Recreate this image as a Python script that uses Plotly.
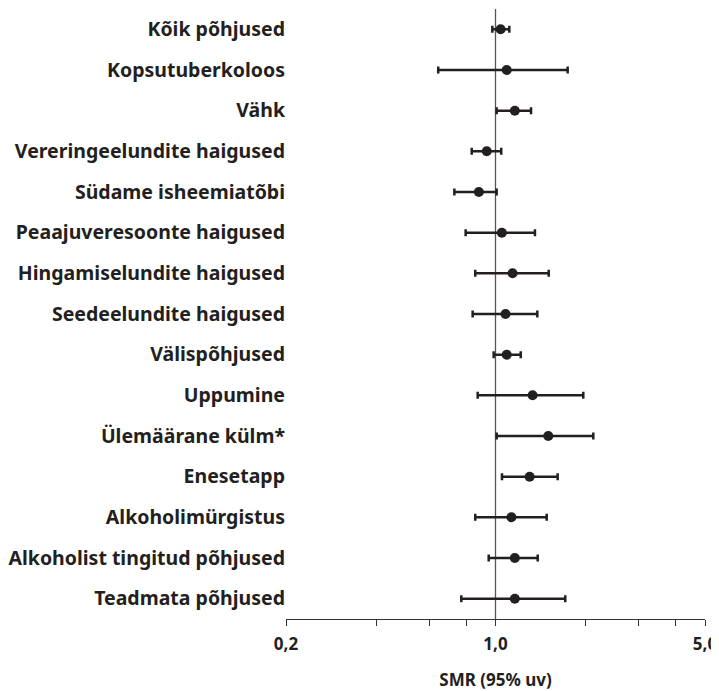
import plotly.graph_objects as go

categories = [
    "Kõik põhjused", "Kopsutuberkoloos", "Vähk", "Vereringeelundite haigused",
    "Südame isheemiatõbi", "Peaajuveresoonte haigused", "Hingamiselundite haigused",
    "Seedeelundite haigused", "Välispõhjused", "Uppumine", "Ülemäärane külm*",
    "Enesetapp", "Alkoholimürgistus", "Alkoholist tingitud põhjused", "Teadmata põhjused",
]
smr = [1.04, 1.09, 1.16, 0.935, 0.88, 1.05, 1.14, 1.08, 1.09, 1.33, 1.50, 1.30, 1.13, 1.16, 1.16]
ci_low = [0.976, 0.644, 1.009, 0.833, 0.729, 0.795, 0.856, 0.839, 0.986, 0.872, 1.009, 1.051, 0.856, 0.949, 0.769]
ci_high = [1.112, 1.741, 1.314, 1.045, 1.009, 1.354, 1.505, 1.379, 1.214, 1.963, 2.12, 1.612, 1.482, 1.383, 1.709]

x_tickvals = [0.2, 0.4, 0.6, 0.8, 1, 2, 3, 4, 5]
x_ticktext = ["0,2", "", "", "", "1,0", "", "", "", "5,0"]
x_title = "SMR (95% uv)"

rows = list(range(1, len(categories) + 1))
ink = "#231f20"

fig = go.Figure()
fig.add_trace(go.Scatter(
    x=smr, y=rows, mode="markers",
    marker=dict(size=10, color=ink),
    error_x=dict(
        type="data", symmetric=False,
        array=[h - m for h, m in zip(ci_high, smr)],
        arrayminus=[m - l for m, l in zip(smr, ci_low)],
        color=ink, thickness=2.5, width=3.5,
    ),
    showlegend=False,
))

fig.add_shape(type="line", xref="x", yref="paper", x0=1, x1=1, y0=0, y1=1,
              line=dict(color="#555555", width=1.3), layer="below")

fig.update_layout(
    width=711, height=683,
    margin=dict(l=278, r=14, t=1, b=72, autoexpand=False),
    plot_bgcolor="white", paper_bgcolor="white",
    font=dict(family="Noto Sans", color=ink),
)
fig.update_xaxes(
    type="log", range=[-0.69897, 0.69897],
    tickvals=x_tickvals, ticktext=x_ticktext,
    ticks="outside", ticklen=6, tickwidth=1.2, tickcolor="#333333",
    showline=True, linecolor="#333333", linewidth=1.3,
    showgrid=False, zeroline=False, automargin=False,
    tickfont=dict(size=17, weight=700, color=ink),
    ticklabelstandoff=3,
    title=dict(text=x_title, font=dict(size=17, weight=700, color=ink), standoff=22),
)
fig.update_yaxes(
    tickvals=rows, ticktext=categories, range=[15.5, 0.5],
    showgrid=False, zeroline=False, showline=False, ticks="",
    automargin=False,
    tickfont=dict(size=19.5, weight=700, color=ink),
    ticklabelstandoff=0,
)

fig.write_html("out.html")
